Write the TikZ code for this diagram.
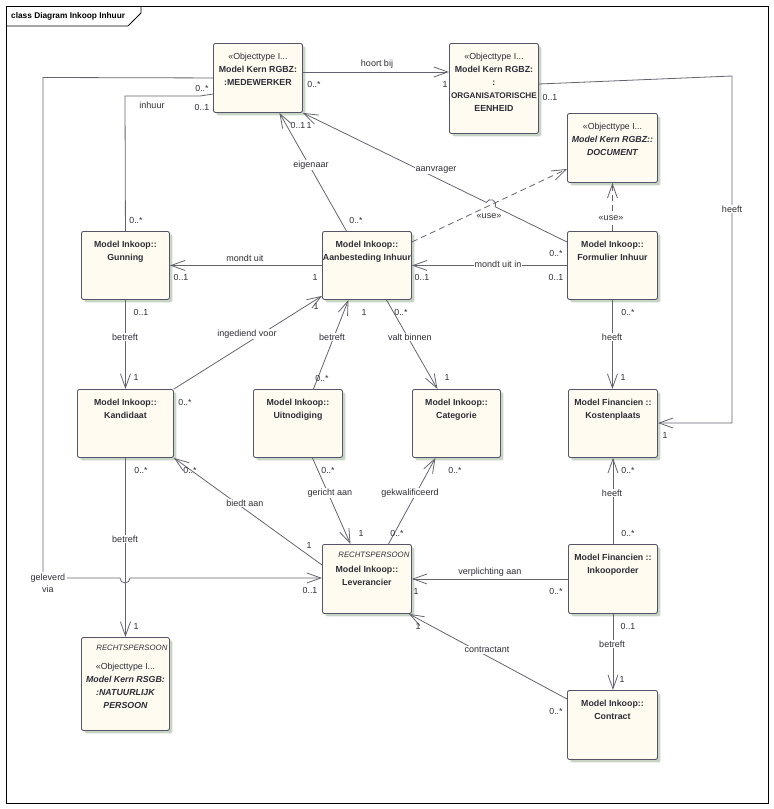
\documentclass[tikz,border=0pt]{standalone}
\usepackage{fontspec}
\setmainfont{Liberation Sans}
\usepackage{tikz}
\usetikzlibrary{arrows.meta, shadows}

\definecolor{clsfill}{RGB}{255,251,240}
\definecolor{clsline}{RGB}{85,85,105}
\definecolor{linec}{RGB}{100,100,112}
\definecolor{textc}{RGB}{45,45,55}
\definecolor{shadowc}{RGB}{200,212,196}

\def\stereo{{\mdseries\upshape «Objecttype I...}}
\newcommand{\boxtext}[3]{\parbox[t][#2pt][t]{#1pt}{\centering\fontsize{8.8}{13}\selectfont\rule{0pt}{16pt}#3}}

\tikzset{
  cls/.style={draw=clsline, fill=clsfill, line width=0.9pt, rounded corners=2pt, inner sep=0pt,
    anchor=north west, text=textc,
    drop shadow={shadow xshift=3pt, shadow yshift=-3pt, fill=shadowc, opacity=1}},
  link/.style={draw=linec, line width=0.8pt},
  assoc/.style={link, -{Straight Barb[length=14pt,width=10pt]}},
  usedep/.style={assoc, dash pattern=on 6pt off 4pt},
  mult/.style={text=textc, font=\fontsize{8.8}{10}\selectfont, inner sep=0pt},
  role/.style={text=textc, font=\fontsize{9}{10}\selectfont, inner sep=1pt, fill=white}
}

\begin{document}
\begin{tikzpicture}[x=1pt, y=-1pt]
\useasboundingbox (0,0) rectangle (774,809);
\draw[line width=0.8pt] (6,6) rectangle (768,803);
\draw[line width=0.8pt] (6,26) -- (128,26) -- (141,13) -- (141,6);
\node[anchor=west, inner sep=0pt, font=\bfseries\fontsize{8.3}{10}\selectfont] (title) at (11,16) {class Diagram Inkoop Inhuur};

% classes
\node[cls] (med) at (213,43) {\boxtext{89}{69}{\stereo\\\bfseries Model Kern RGBZ:\\:MEDEWERKER}};
\node[cls] (org) at (449,43) {\boxtext{89}{90}{\stereo\\\bfseries Model Kern RGBZ:\\:\\{\fontsize{8.2}{13}\selectfont ORGANISATORISCHE}\\EENHEID}};
\node[cls] (doc) at (567,113) {\boxtext{90}{69}{\stereo\\\bfseries\itshape Model Kern RGBZ::\\DOCUMENT}};
\node[cls] (gun) at (81,231) {\boxtext{88}{68}{\bfseries Model Inkoop::\\Gunning}};
\node[cls] (aanb) at (322,231) {\boxtext{89}{68}{\bfseries Model Inkoop::\\Aanbesteding Inhuur}};
\node[cls] (form) at (567,231) {\boxtext{90}{68}{\bfseries Model Inkoop::\\Formulier Inhuur}};
\node[cls] (kand) at (77,389) {\boxtext{96}{68}{\bfseries Model Inkoop::\\Kandidaat}};
\node[cls] (uitn) at (253,389) {\boxtext{89}{68}{\bfseries Model Inkoop::\\Uitnodiging}};
\node[cls] (cat) at (412,389) {\boxtext{88}{68}{\bfseries Model Inkoop::\\Categorie}};
\node[cls] (kost) at (568,389) {\boxtext{89}{68}{\bfseries Model Financien ::\\Kostenplaats}};
\node[cls] (lev) at (322,544) {\parbox[t][69pt][t]{89pt}{\fontsize{8.8}{13}\selectfont\raggedleft\rule{0pt}{13pt}{\fontsize{7.8}{13}\selectfont\itshape RECHTSPERSOON}\kern2pt\par\vspace{2pt}\centering\bfseries Model Inkoop::\\Leverancier}};
\node[cls] (inko) at (568,544) {\boxtext{89}{69}{\bfseries Model Financien ::\\Inkooporder}};
\node[cls] (natp) at (81,637) {\parbox[t][93pt][t]{88pt}{\fontsize{8.8}{13}\selectfont\raggedleft\rule{0pt}{13pt}{\fontsize{7.8}{13}\selectfont\itshape RECHTSPERSOON}\kern2pt\par\vspace{6pt}\centering\stereo\\\bfseries\itshape Model Kern RSGB:\\:NATUURLIJK\\PERSOON}};
\node[cls] (contr) at (567,690) {\boxtext{90}{69}{\bfseries Model Inkoop::\\Contract}};

% associations
\draw[assoc] (med.east |- 0,72) -- (org.west |- 0,72);
\draw[assoc] (org.east |- 0,84) -- (732,76) -- (732,423) -- (kost.east |- 0,423);
\draw[link] (gun.north) -- (125,96) -- (200,96) -- (med.west |- 0,94);
\draw[assoc] (med.west) -- (43,77.5) -- (43,578) -- (120,578) arc[start angle=180, end angle=0, radius=5] -- (lev.west |- 0,578);
\draw[assoc] ([xshift=-20.5pt]aanb.north) -- ([xshift=21.5pt]med.south);
\draw[assoc] (form.west |- 0,242) -- (495.3,206.8) arc[start angle=26.1, end angle=-153.9, radius=5] -- (med.south east);
\draw[usedep] (aanb.east |- 0,242) -- (doc.west |- 0,169);
\draw[usedep] (form.north) -- (doc.south);
\draw[assoc] (aanb.west) -- (gun.east);
\draw[assoc] (form.west) -- (aanb.east);
\draw[assoc] (gun.south) -- (kand.north);
\draw[assoc] (kand.north east) -- ([yshift=4pt]aanb.south west);
\draw[assoc] ([xshift=15.5pt]uitn.north) -- ([xshift=-18.5pt]aanb.south);
\draw[assoc] ([xshift=19.5pt]aanb.south) -- ([xshift=-19pt]cat.north);
\draw[assoc] (form.south) -- (form.south |- kost.north);
\draw[assoc] (kand.south) -- (natp.north);
\draw[assoc] (lev.west |- 0,565) -- (kand.south east);
\draw[assoc] ([xshift=14.5pt]uitn.south) -- ([xshift=-16.5pt]lev.north);
\draw[assoc] ([xshift=21.5pt]lev.north) -- ([xshift=-21pt]cat.south);
\draw[assoc] (inko.west) -- (lev.east);
\draw[assoc] (inko.north) -- (kost.south);
\draw[assoc] (inko.south) -- (inko.south |- contr.north);
\draw[assoc] (contr.west |- 0,699) -- ([xshift=-3pt]lev.south east);

% role names
\node[role] (hoortbij) at (377,64) {hoort bij};
\node[role] (heeft1) at (732,209) {heeft};
\node[role] (inhuur) at (152,105) {inhuur};
\node[role, align=center, inner sep=1.5pt, font=\fontsize{9}{12}\selectfont] (geleverd) at (48,583) {geleverd\\via};
\node[role] (eigenaar) at (311,165) {eigenaar};
\node[role] (aanvrager) at (436,170) {aanvrager};
\node[role] (use1) at (489,216) {«use»};
\node[role] (use2) at (611,218) {«use»};
\node[role] (mondtuit) at (245,258) {mondt uit};
\node[role] (mondtuitin) at (498,264) {mondt uit in};
\node[role] (betreft1) at (125,337) {betreft};
\node[role] (ingediend) at (247,334) {ingediend voor};
\node[role] (betreft2) at (332,337) {betreft};
\node[role] (valtbinnen) at (410,337) {valt binnen};
\node[role] (heeft2) at (612,337) {heeft};
\node[role] (betreft3) at (125,539) {betreft};
\node[role] (biedtaan) at (245,503) {biedt aan};
\node[role] (gerichtaan) at (330,493) {gericht aan};
\node[role] (gekwal) at (410,493) {gekwalificeerd};
\node[role] (heeft3) at (612,493) {heeft};
\node[role] (verplicht) at (490,572) {verplichting aan};
\node[role] (betreft4) at (612,644) {betreft};
\node[role] (contractant) at (487,650) {contractant};

% multiplicities
\node[mult] (hbm1) at (314,84) {0..*};
\node[mult] (hbm2) at (445,84) {1};
\node[mult] (hfm1) at (550,97) {0..1};
\node[mult] (hfm2) at (665,435) {1};
\node[mult] (ihm1) at (136,220) {0..*};
\node[mult] (ihm2) at (202,107) {0..1};
\node[mult] (gvm1) at (202,88) {0..*};
\node[mult] (gvm2) at (310,590) {0..1};
\node[mult] (egm1) at (356,220) {0..*};
\node[mult] (egm2) at (298,125) {0..1};
\node[mult] (avm2) at (309,125) {1};
\node[mult] (avm1) at (556,253) {0..*};
\node[mult] (mum1) at (181,277) {0..1};
\node[mult] (mum2) at (315,277) {1};
\node[mult] (muim1) at (422,277) {0..1};
\node[mult] (muim2) at (556,277) {0..1};
\node[mult] (btm1) at (141,312) {0..1};
\node[mult] (btm2) at (136,377) {1};
\node[mult] (idm1) at (316,306) {1};
\node[mult] (idm2) at (185,402) {0..*};
\node[mult] (bum1) at (322,378) {0..*};
\node[mult] (bum2) at (364,312) {1};
\node[mult] (vbm1) at (401,312) {0..*};
\node[mult] (vbm2) at (447,377) {1};
\node[mult] (hkm1) at (628,312) {0..*};
\node[mult] (hkm2) at (623,377) {1};
\node[mult] (bnm1) at (141,470) {0..*};
\node[mult] (bnm2) at (136,626) {1};
\node[mult] (bam1) at (190,470) {0..*};
\node[mult] (bam2) at (309,545) {1};
\node[mult] (gam1) at (328,470) {0..*};
\node[mult] (gam2) at (361,533) {1};
\node[mult] (gkm1) at (455,470) {0..*};
\node[mult] (gkm2) at (397,533) {0..*};
\node[mult] (vam1) at (416,591) {1};
\node[mult] (vam2) at (556,591) {0..*};
\node[mult] (hom1) at (628,470) {0..*};
\node[mult] (hom2) at (628,533) {0..*};
\node[mult] (bcm1) at (628,626) {0..1};
\node[mult] (bcm2) at (622,679) {1};
\node[mult] (ctm1) at (418,626) {1};
\node[mult] (ctm2) at (556,711) {0..*};
\end{tikzpicture}
\end{document}
